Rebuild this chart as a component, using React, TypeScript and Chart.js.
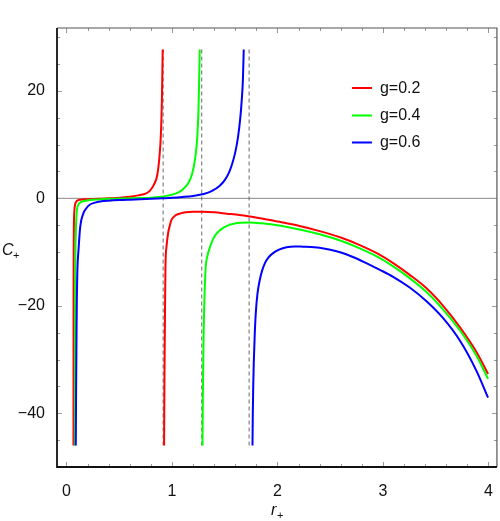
import React, { useEffect, useRef } from 'react';
import { Chart, registerables } from 'chart.js';

Chart.register(...registerables);

const seriesLabels = ['g=0.2', 'g=0.4', 'g=0.6'];
const seriesColors = ['#ff0000', '#00ff00', '#0000ff'];

// g = 0.2
const redLeftX = [0.066, 0.0665, 0.067, 0.068, 0.07, 0.074, 0.08, 0.09, 0.105, 0.13, 0.2, 0.3, 0.4, 0.5, 0.6, 0.68, 0.74, 0.79, 0.83, 0.86, 0.88, 0.895, 0.905, 0.912];
const redLeftY = [-46, -30, -18, -10, -5, -2.5, -1.3, -0.7, -0.4, -0.25, -0.15, -0.1, 0, 0.1, 0.3, 0.55, 0.8, 1.4, 2.6, 4.3, 7.5, 12, 19, 27.7];
const redRightX = [0.925, 0.928, 0.932, 0.938, 0.948, 0.963, 0.98, 0.995, 1.02, 1.04, 1.08, 1.13, 1.2, 1.29, 1.4, 1.52, 1.64, 1.74, 1.9, 2.05, 2.21, 2.4, 2.6, 2.78, 2.95, 3.1, 3.25, 3.41, 3.57, 3.73, 3.886, 3.996];
const redRightY = [-46, -35, -25, -12.7, -9, -6.5, -5, -4.0, -3.4, -3.1, -2.8, -2.6, -2.5, -2.5, -2.6, -2.85, -3.1, -3.4, -3.95, -4.5, -5.15, -6.1, -7.3, -8.7, -10.3, -12.1, -14.2, -16.7, -20.0, -24.0, -28.6, -32.7];

// g = 0.4
const greenLeftX = [0.079, 0.08, 0.082, 0.085, 0.089, 0.095, 0.104, 0.115, 0.13, 0.155, 0.18, 0.22, 0.3, 0.4, 0.5, 0.6, 0.7, 0.8, 0.88, 0.96, 1.04, 1.1, 1.15, 1.19, 1.22, 1.24, 1.252, 1.263];
const greenLeftY = [-46, -30, -18, -10, -6, -3, -1.6, -1.1, -0.8, -0.55, -0.45, -0.3, -0.2, -0.1, -0.05, 0, 0.05, 0.12, 0.25, 0.5, 0.93, 1.6, 2.7, 4.5, 7.5, 11.5, 17, 27.7];
const greenRightX = [1.289, 1.292, 1.296, 1.3, 1.31, 1.32, 1.335, 1.358, 1.38, 1.405, 1.44, 1.485, 1.55, 1.64, 1.74, 1.85, 2.0, 2.21, 2.4, 2.6, 2.78, 2.95, 3.1, 3.25, 3.41, 3.57, 3.73, 3.886, 3.996];
const greenRightY = [-46, -38, -31, -25, -17, -12.7, -10.8, -9.2, -8.0, -7.0, -6.2, -5.5, -4.9, -4.55, -4.5, -4.65, -5.0, -5.8, -6.7, -7.9, -9.3, -10.9, -12.7, -14.8, -17.4, -20.7, -24.6, -29.3, -33.6];

// g = 0.6
const blueLeftX = [0.088, 0.091, 0.095, 0.098, 0.104, 0.114, 0.13, 0.16, 0.19, 0.22, 0.27, 0.32, 0.4, 0.5, 0.6, 0.7, 0.8, 0.9, 1.0, 1.1, 1.2, 1.3, 1.38, 1.45, 1.5, 1.54, 1.57, 1.6, 1.625, 1.645, 1.66, 1.672, 1.68];
const blueLeftY = [-46, -36, -26, -19, -13, -9.6, -5.3, -2.8, -1.8, -1.2, -0.8, -0.6, -0.45, -0.33, -0.25, -0.18, -0.1, 0, 0.1, 0.25, 0.45, 0.8, 1.4, 2.3, 3.4, 4.8, 6.4, 8.6, 11.3, 14.5, 18, 22, 27.7];
const blueRightX = [1.763, 1.766, 1.77, 1.775, 1.784, 1.794, 1.81, 1.832, 1.855, 1.88, 1.915, 1.958, 2.02, 2.085, 2.16, 2.24, 2.35, 2.45, 2.55, 2.65, 2.75, 2.875, 2.98, 3.096, 3.25, 3.41, 3.57, 3.73, 3.886, 3.996];
const blueRightY = [-46, -40, -35, -30.7, -25.5, -21.4, -17.8, -15.2, -13.4, -12.1, -11.0, -10.2, -9.5, -9.1, -8.95, -9.0, -9.1, -9.37, -9.8, -10.4, -11.2, -12.4, -13.4, -14.6, -16.55, -19.1, -22.3, -26.5, -32.1, -37.1];

const asymptoteX = [0.916, 1.282, 1.731];
const asymptoteYRange = [-46, 27.7];

const xTickValues = [0, 1, 2, 3, 4];
const xTickLabels = ['0', '1', '2', '3', '4'];
const yTickValues = [-40, -20, 0, 20];
const yTickLabels = ['\u221240', '\u221220', '0', '20'];
const xRange = [-0.09, 4.08];
const yRange = [-50, 31.7];
const xMinorStep = 0.2;
const yMinorStep = 5;

const FONT = "'Liberation Sans', Arial, sans-serif";

function toPoints(xs: number[], ys: number[]) {
  return xs.map((x, i) => ({ x, y: ys[i] }));
}

const framePlugin = {
  id: 'framePlugin',
  beforeDatasetsDraw(chart: any) {
    const { ctx, chartArea, scales } = chart;
    const y0 = scales.y.getPixelForValue(0);
    ctx.save();
    ctx.strokeStyle = '#888888';
    ctx.lineWidth = 1;
    ctx.beginPath();
    ctx.moveTo(chartArea.left, y0);
    ctx.lineTo(chartArea.right, y0);
    ctx.stroke();
    ctx.restore();
  },
  afterDraw(chart: any) {
    const { ctx, chartArea: a, scales } = chart;
    const xs = scales.x;
    const ys = scales.y;
    ctx.save();
    // ticks
    ctx.strokeStyle = '#999999';
    ctx.lineWidth = 1;
    const drawX = (v: number, len: number) => {
      const px = Math.round(xs.getPixelForValue(v)) + 0.5;
      ctx.beginPath();
      ctx.moveTo(px, a.bottom);
      ctx.lineTo(px, a.bottom - len);
      ctx.moveTo(px, a.top);
      ctx.lineTo(px, a.top + len);
      ctx.stroke();
    };
    const drawY = (v: number, len: number) => {
      const py = Math.round(ys.getPixelForValue(v)) + 0.5;
      ctx.beginPath();
      ctx.moveTo(a.left, py);
      ctx.lineTo(a.left + len, py);
      ctx.moveTo(a.right, py);
      ctx.lineTo(a.right - len, py);
      ctx.stroke();
    };
    for (let v = 0; v <= xRange[1] + 1e-9; v += xMinorStep) {
      const isMajor = Math.abs(v - Math.round(v)) < 1e-6;
      drawX(v, isMajor ? 5 : 3);
    }
    for (let v = -45; v <= yRange[1]; v += yMinorStep) {
      const isMajor = Math.abs(v % 20) < 1e-6;
      drawY(v, isMajor ? 5 : 3);
    }
    // frame
    ctx.lineWidth = 1.2;
    ctx.strokeStyle = '#555555';
    ctx.beginPath();
    ctx.moveTo(a.left, a.top);
    ctx.lineTo(a.right, a.top);
    ctx.lineTo(a.right, a.bottom);
    ctx.stroke();
    ctx.lineWidth = 1.8;
    ctx.strokeStyle = '#111111';
    ctx.beginPath();
    ctx.moveTo(a.left, a.top);
    ctx.lineTo(a.left, a.bottom);
    ctx.lineTo(a.right, a.bottom);
    ctx.stroke();

    // axis titles
    ctx.fillStyle = '#111111';
    ctx.textBaseline = 'alphabetic';
    ctx.textAlign = 'left';
    ctx.font = `italic 16px ${FONT}`;
    ctx.fillText('C', 2, 254.5);
    ctx.font = `11px ${FONT}`;
    ctx.fillText('+', 13, 259);
    const cx = (a.left + a.right) / 2;
    ctx.font = `italic 16px ${FONT}`;
    ctx.fillText('r', cx - 6, 514.5);
    ctx.font = `11px ${FONT}`;
    ctx.fillText('+', cx, 519);

    // legend
    const legendLineX = a.right - 145;
    const legendY = [88, 115.5, 142.5];
    seriesLabels.forEach((label, i) => {
      ctx.strokeStyle = seriesColors[i];
      ctx.lineWidth = 2;
      ctx.beginPath();
      ctx.moveTo(legendLineX, legendY[i]);
      ctx.lineTo(legendLineX + 20, legendY[i]);
      ctx.stroke();
      ctx.fillStyle = '#111111';
      ctx.font = `16px ${FONT}`;
      ctx.textBaseline = 'middle';
      ctx.fillText(label, legendLineX + 28, legendY[i] + 0.5);
    });
    ctx.restore();
  },
};

export default function App() {
  const canvasRef = useRef<HTMLCanvasElement | null>(null);

  useEffect(() => {
    if (!canvasRef.current) return;
    const lineDs = (xs: number[], ys: number[], color: string, order: number) => ({
      data: toPoints(xs, ys),
      borderColor: color,
      backgroundColor: color,
      borderWidth: 2,
      pointRadius: 0,
      fill: false,
      cubicInterpolationMode: 'monotone' as const,
      order,
    });
    const datasets: any[] = [
      lineDs(redLeftX, redLeftY, seriesColors[0], 2),
      lineDs(redRightX, redRightY, seriesColors[0], 2),
      lineDs(greenLeftX, greenLeftY, seriesColors[1], 1),
      lineDs(greenRightX, greenRightY, seriesColors[1], 1),
      lineDs(blueLeftX, blueLeftY, seriesColors[2], 0),
      lineDs(blueRightX, blueRightY, seriesColors[2], 0),
      ...asymptoteX.map((x) => ({
        data: [
          { x, y: asymptoteYRange[0] },
          { x, y: asymptoteYRange[1] },
        ],
        borderColor: 'rgba(80,80,80,0.85)',
        borderWidth: 1,
        borderDash: [4, 3],
        pointRadius: 0,
        fill: false,
        order: 3,
      })),
    ];

    const chart = new Chart(canvasRef.current, {
      type: 'line',
      data: { datasets },
      options: {
        animation: false,
        responsive: false,
        maintainAspectRatio: false,
        layout: { padding: { top: 28, right: 3, left: 0, bottom: 0 } },
        plugins: {
          legend: { display: false },
          tooltip: { enabled: false },
        },
        scales: {
          x: {
            type: 'linear',
            min: xRange[0],
            max: xRange[1],
            grid: { display: false },
            border: { display: false },
            afterBuildTicks: (scale: any) => {
              scale.ticks = xTickValues.map((value) => ({ value }));
            },
            afterFit: (scale: any) => {
              scale.height = 54;
            },
            ticks: {
              autoSkip: false,
              maxRotation: 0,
              padding: 7,
              color: '#111111',
              font: { family: FONT, size: 16 },
              callback: (v: any) => {
                const i = xTickValues.indexOf(Number(v));
                return i >= 0 ? xTickLabels[i] : '';
              },
            },
          },
          y: {
            type: 'linear',
            min: yRange[0],
            max: yRange[1],
            grid: { display: false },
            border: { display: false },
            afterBuildTicks: (scale: any) => {
              scale.ticks = yTickValues.map((value) => ({ value }));
            },
            afterFit: (scale: any) => {
              scale.width = 57;
            },
            ticks: {
              autoSkip: false,
              padding: 4,
              color: '#111111',
              font: { family: FONT, size: 16 },
              callback: (v: any) => {
                const i = yTickValues.indexOf(Number(v));
                return i >= 0 ? yTickLabels[i] : '';
              },
            },
          },
        },
      },
      plugins: [framePlugin],
    });
    return () => chart.destroy();
  }, []);

  return (
    <div style={{ position: 'absolute', left: 0, top: 0, width: 500, height: 521, background: '#ffffff' }}>
      <canvas ref={canvasRef} width={500} height={521} />
    </div>
  );
}
